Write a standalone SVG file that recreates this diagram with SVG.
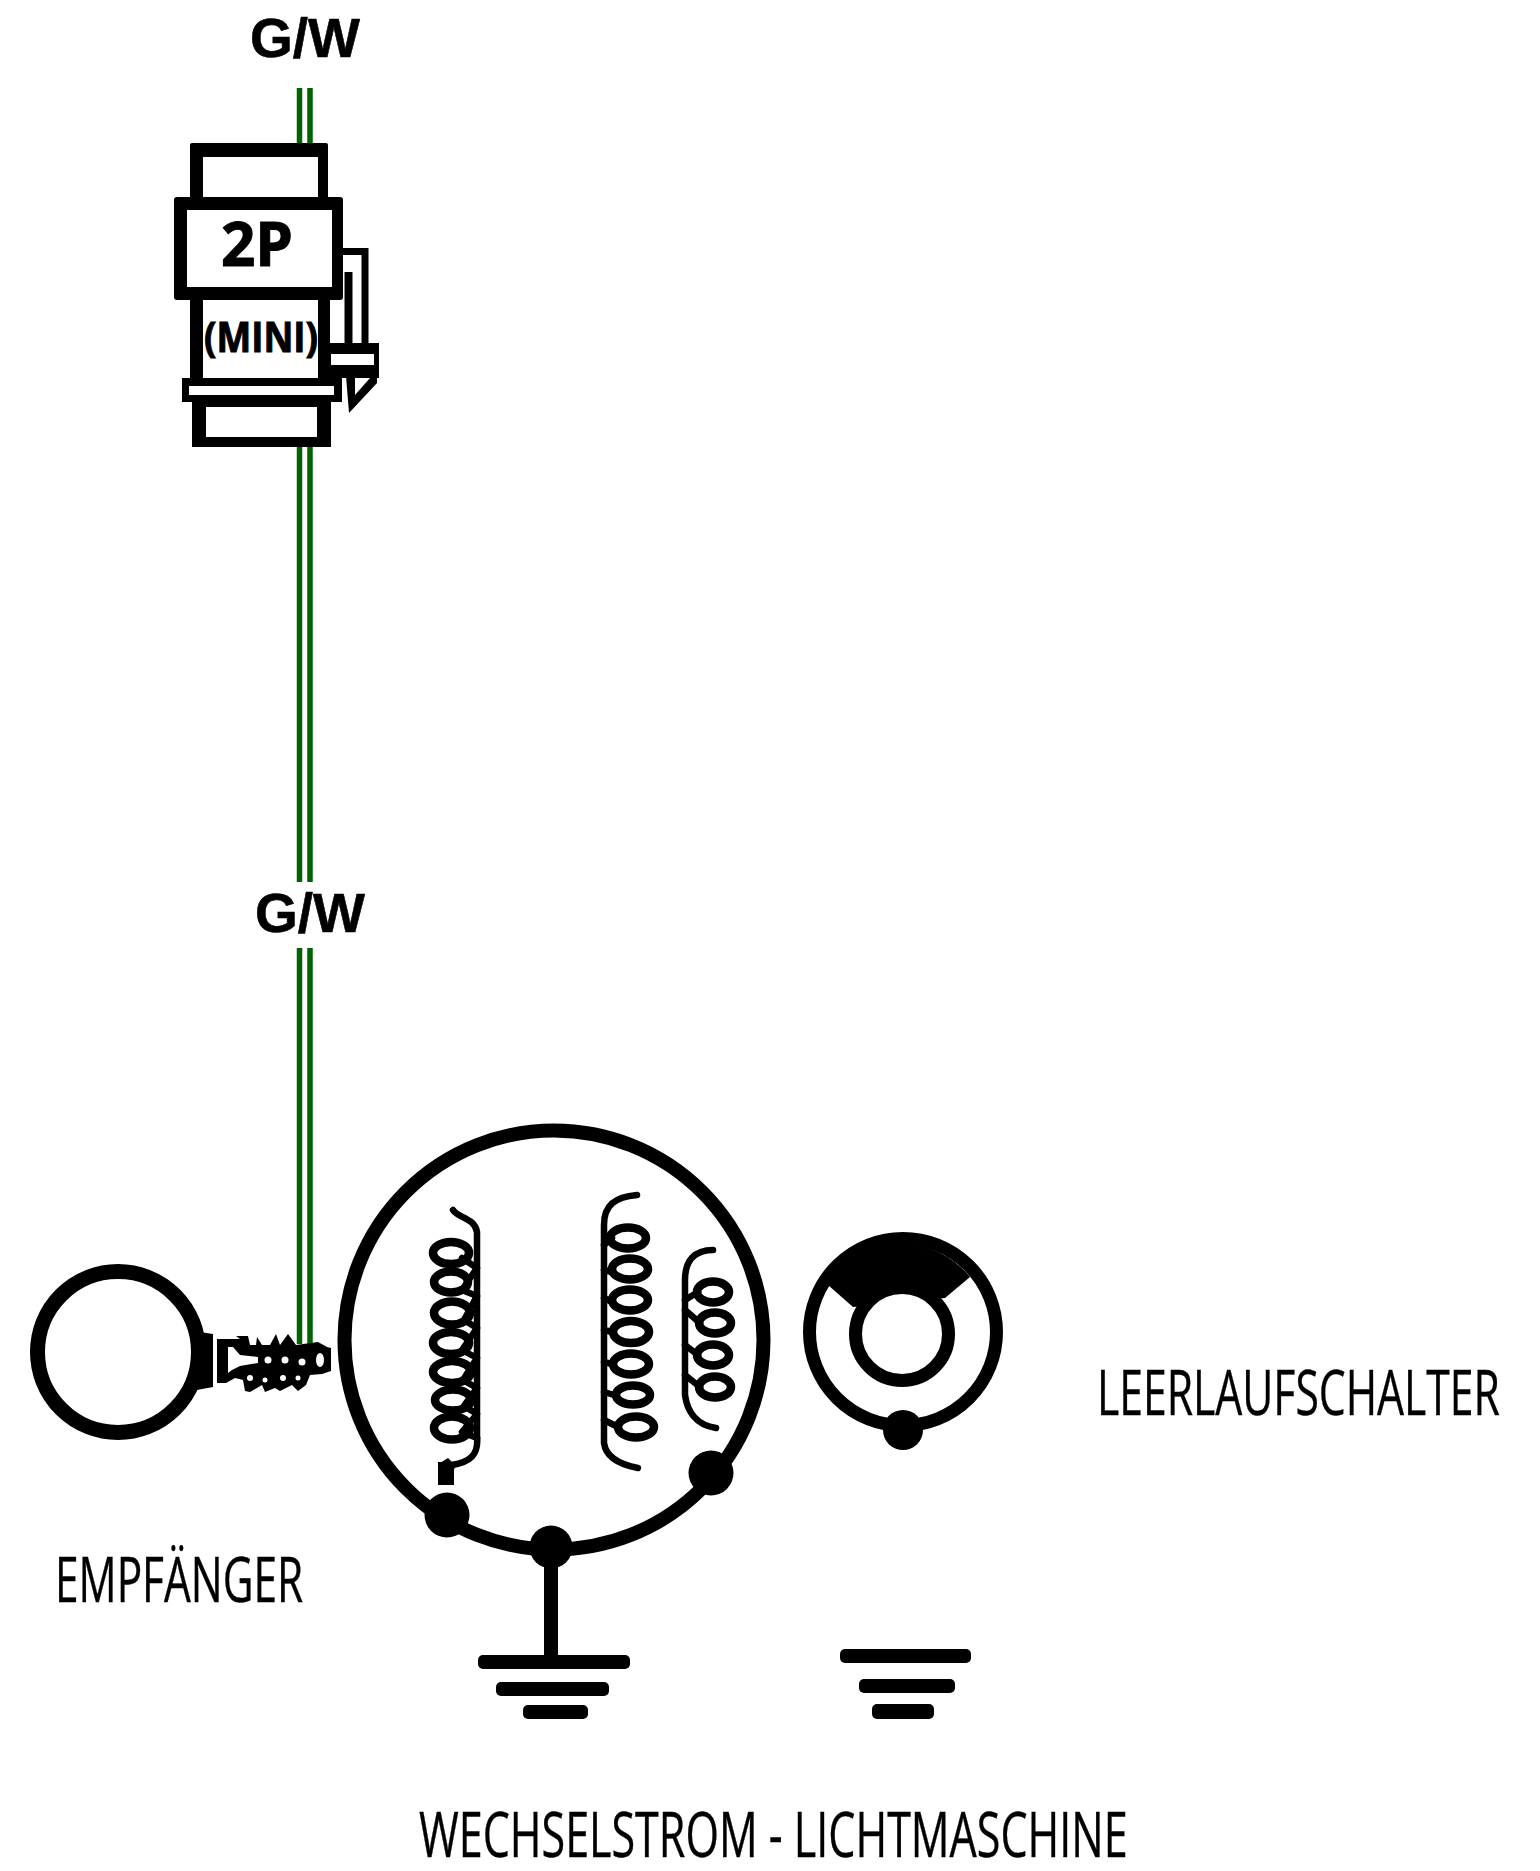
<svg xmlns="http://www.w3.org/2000/svg" width="1540" height="1871" viewBox="0 0 1540 1871">
<style>
.s{fill:none;stroke:#000;stroke-width:6.500;stroke-linecap:round;stroke-linejoin:round}
.c{fill:none;stroke:#000;stroke-width:8.500}
.w{fill:none;stroke:#006400;stroke-width:5.500}
.d{fill:#000}
.h{fill:#fff}
.g{font-family:"Liberation Sans",Arial,sans-serif;font-weight:700;font-size:55px;text-anchor:middle;stroke:#000;stroke-width:.6}
.t{font-family:"Open Sans","Noto Sans",sans-serif;font-weight:400;font-size:62px;fill:#000;stroke:#000;stroke-width:.4}
.b{font-family:"Open Sans","Noto Sans",sans-serif;font-weight:700;stroke:#000}
</style>
<rect width="1540" height="1871" fill="#fff"/>
<g id="connectors">
<path class="w" d="M299.500 88V145M310 88V145M299.500 446V882M310 446V882M299.500 948V1344M310 948V1344"/>
<path d="M551 1547V1660" fill="none" stroke="#000" stroke-width="14"/>
</g>
<g id="connector-2p">
<rect class="d" x="190" y="143" width="138" height="160" rx="2"/>
<rect class="h" x="203" y="157" width="115" height="40"/>
<rect class="d" x="190" y="295" width="140" height="90"/>
<rect class="h" x="203" y="300" width="115" height="78"/>
<rect class="d" x="182" y="378" width="160" height="24"/>
<rect class="h" x="189" y="386" width="145" height="9"/>
<rect class="d" x="192" y="402" width="139" height="45"/>
<rect class="h" x="206" y="407" width="111" height="30"/>
<rect class="d" x="174" y="197" width="169" height="103" rx="3"/>
<rect class="h" x="187" y="210" width="145" height="77"/>
<path d="M340 251.500H365V345" fill="none" stroke="#000" stroke-width="7"/>
<path d="M348.500 272V345" fill="none" stroke="#000" stroke-width="8"/>
<rect class="d" x="330" y="343" width="49" height="35"/>
<rect class="h" x="331" y="354" width="43" height="11"/>
<path class="d" d="M346 376L349 413L377 383V376Z"/>
<path class="h" d="M355 378V395L370 378Z"/>
<text class="b" x="257" y="266" font-size="60" stroke-width="1" text-anchor="middle" textLength="72" lengthAdjust="spacingAndGlyphs">2P</text>
<text class="b" x="261" y="352" font-size="41" stroke-width="1" text-anchor="middle" textLength="114" lengthAdjust="spacingAndGlyphs">(MINI)</text>
</g>
<g id="label-gw-top"><text class="g" x="305" y="57">G/W</text></g>
<g id="label-gw-mid"><text class="g" x="310" y="932">G/W</text></g>
<g id="empfaenger">
<path class="d" d="M186 1330L213 1334V1387L186 1392Z"/>
<circle cx="118" cy="1352" r="80.500" fill="#fff" stroke="#000" stroke-width="15"/>
<path class="d" d="M217 1339L240 1339L236 1336L248 1336L250 1345L256 1345L257 1337L262 1345L270 1345L276 1334L280 1345L288 1334L296 1345L318 1342L327 1347L331 1348L331 1371L322 1374L310 1375L306 1385L298 1391L292 1385L280 1391L275 1388L265 1392L262 1385L250 1392L245 1391L243 1380L235 1378L226 1383L217 1383Z"/>
<path class="h" d="M228 1347L233 1347L240 1355L258 1357L258 1363L240 1366L232 1370L228 1373Z"/>
<circle class="h" cx="268" cy="1360" r="3.500"/><circle class="h" cx="285" cy="1360" r="3.500"/><circle class="h" cx="302" cy="1362" r="3.500"/>
<ellipse class="h" cx="320" cy="1360" rx="4" ry="7"/>
<circle class="h" cx="250" cy="1378" r="3"/><circle class="h" cx="265" cy="1380" r="2.500"/><circle class="h" cx="283" cy="1378" r="3"/><circle class="h" cx="298" cy="1378" r="2.500"/>
<text class="t" transform="translate(55 1602) scale(.678 1)" textLength="366" lengthAdjust="spacingAndGlyphs">EMPFÄNGER</text>
</g>
<g id="lichtmaschine">
<circle cx="554" cy="1340" r="209.500" fill="none" stroke="#000" stroke-width="14"/>
<circle class="d" cx="447" cy="1515" r="22.500"/>
<circle class="d" cx="551" cy="1547" r="21.500"/>
<circle class="d" cx="711" cy="1473" r="22.500"/>
<g id="coil-left">
<path class="s" d="M453 1210C458 1218 475 1218 477 1232V1436C479 1455 470 1462 452 1465"/>
<rect class="d" x="438" y="1462" width="16" height="23"/>
<path class="d" d="M440 1463L448 1458L456 1466L450 1476Z"/>
<ellipse class="c" cx="451" cy="1253" rx="18" ry="11"/><ellipse class="c" cx="451" cy="1282" rx="17" ry="10.500"/><ellipse class="c" cx="452" cy="1313" rx="18" ry="11.500"/><ellipse class="c" cx="451" cy="1343" rx="18" ry="11"/><ellipse class="c" cx="452" cy="1372" rx="19" ry="11"/><ellipse class="c" cx="453" cy="1400" rx="18" ry="10.500"/><ellipse class="c" cx="452" cy="1428" rx="18" ry="11.500"/>
<path class="s" d="M462 1258L477 1268L462 1290L477 1296L464 1320L477 1328L462 1350L477 1358L463 1380L477 1388L464 1406L477 1414L462 1432L477 1438"/>
</g>
<g id="coil-middle">
<path class="s" d="M637 1195C615 1197 604 1205 604 1225V1443C606 1458 622 1465 638 1468"/>
<ellipse class="c" cx="628" cy="1238" rx="18" ry="10.500"/><ellipse class="c" cx="630" cy="1269" rx="18" ry="10.500"/><ellipse class="c" cx="630" cy="1300" rx="18" ry="10.500"/><ellipse class="c" cx="631" cy="1332" rx="18" ry="11"/><ellipse class="c" cx="631" cy="1364" rx="18" ry="10.500"/><ellipse class="c" cx="633" cy="1395" rx="17" ry="9.500"/><ellipse class="c" cx="636" cy="1427" rx="18" ry="10.500"/>
<path class="s" d="M604 1245L612 1238M604 1270L612 1272M604 1298L612 1302M604 1330L612 1332M604 1362L612 1364M604 1392L614 1395M604 1420L618 1427"/>
</g>
<g id="coil-right">
<path class="s" d="M713 1250C695 1250 685 1260 685 1280V1395C687 1410 695 1425 716 1428"/>
<ellipse class="c" cx="713" cy="1292" rx="16" ry="10.500"/><ellipse class="c" cx="715" cy="1323" rx="16" ry="10.500"/><ellipse class="c" cx="713" cy="1355" rx="16" ry="10.500"/><ellipse class="c" cx="715" cy="1387" rx="16" ry="10.500"/>
<path class="s" d="M685 1300L698 1292M685 1310L700 1323M685 1345L698 1355M685 1375L700 1387"/>
</g>
<g id="ground-left">
<rect class="d" x="478" y="1655" width="152" height="14" rx="5"/><rect class="d" x="496" y="1682" width="113" height="14" rx="5"/><rect class="d" x="523" y="1705" width="65" height="14" rx="5"/>
</g>
<text class="t" transform="translate(419 1857) scale(.69 1)" textLength="1027" lengthAdjust="spacingAndGlyphs">WECHSELSTROM - LICHTMASCHINE</text>
</g>
<g id="leerlaufschalter">
<circle cx="903" cy="1332" r="93.500" fill="none" stroke="#000" stroke-width="13"/>
<path class="d" d="M828 1285L853 1307L945 1298L970 1277A87 87 0 0 0 828 1285Z"/>
<circle cx="902" cy="1334" r="46.500" fill="#fff" stroke="#000" stroke-width="13"/>
<circle class="d" cx="903" cy="1430" r="20"/>
<rect class="d" x="840" y="1649" width="131" height="14" rx="5"/><rect class="d" x="859" y="1679" width="96" height="14" rx="5"/><rect class="d" x="872" y="1704" width="62" height="15" rx="5"/>
<text class="t" transform="translate(1097 1415) scale(.684 1)" textLength="589" lengthAdjust="spacingAndGlyphs">LEERLAUFSCHALTER</text>
</g>
</svg>
